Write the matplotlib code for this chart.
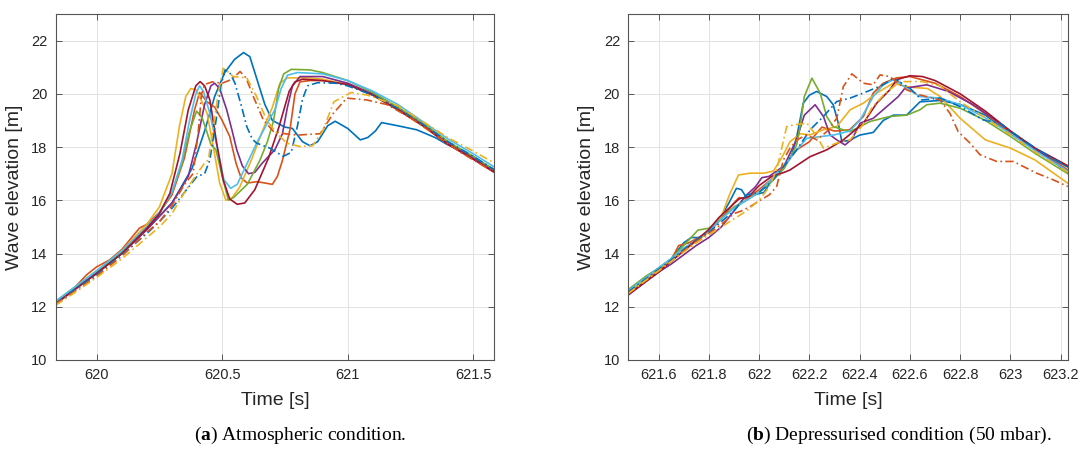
import matplotlib
matplotlib.use("Agg")
import matplotlib.pyplot as plt

# MATLAB default colour order
c_blue = "#0072BD"
c_orange = "#D95319"
c_yellow = "#EDB120"
c_purple = "#7E2F8E"
c_green = "#77AC30"
c_cyan = "#4DBEEE"
c_red = "#A2142F"

# ---- (a) atmospheric condition ----
a_t_blue = [619.836, 619.9, 620.0, 620.1, 620.2, 620.3, 620.38, 620.43, 620.47, 620.51, 620.55, 620.585,
            620.61, 620.64, 620.67, 620.7, 620.75, 620.78, 620.82, 620.85, 620.88, 620.92, 620.95, 621.0,
            621.05, 621.08, 621.11, 621.135, 621.2, 621.275, 621.35, 621.394, 621.5, 621.584]
a_v_blue = [12.15, 12.6, 13.25, 14.0, 14.9, 15.9, 17.2, 18.6, 19.9, 20.8, 21.3, 21.55,
            21.4, 20.5, 19.6, 19.0, 18.75, 18.7, 18.2, 18.05, 18.2, 18.8, 18.97, 18.7,
            18.27, 18.36, 18.6, 18.92, 18.8, 18.65, 18.35, 18.11, 17.65, 17.1]

a_t_orange = [619.836, 619.9, 619.96, 620.0, 620.05, 620.1, 620.17, 620.2, 620.25, 620.3, 620.35, 620.39,
              620.41, 620.44, 620.47, 620.5, 620.53, 620.555, 620.575, 620.6, 620.64, 620.67, 620.7, 620.72,
              620.74, 620.77, 620.79, 620.81, 620.85, 620.9, 621.0, 621.1, 621.2, 621.3, 621.4, 621.5, 621.584]
a_v_orange = [12.15, 12.6, 13.2, 13.5, 13.75, 14.15, 14.95, 15.1, 15.55, 16.2, 17.6, 19.4,
              20.05, 19.7, 19.5, 19.0, 18.4, 17.4, 16.85, 16.65, 16.7, 16.65, 16.6, 16.9,
              17.5, 18.65, 20.0, 20.45, 20.5, 20.5, 20.35, 19.95, 19.4, 18.8, 18.1, 17.55, 17.05]

a_t_yellow = [619.836, 619.9, 620.0, 620.1, 620.2, 620.25, 620.3, 620.33, 620.355, 620.375, 620.395, 620.41,
              620.44, 620.465, 620.49, 620.515, 620.54, 620.57, 620.62, 620.66, 620.7, 620.73, 620.76, 620.85,
              620.9, 621.0, 621.1, 621.2, 621.3, 621.4, 621.5, 621.584]
a_v_yellow = [12.15, 12.6, 13.3, 14.1, 15.1, 15.75, 17.0, 18.8, 19.9, 20.2, 20.15, 19.9,
              19.27, 18.0, 16.65, 16.0, 16.1, 16.5, 17.6, 18.6, 19.5, 20.4, 20.6, 20.6,
              20.55, 20.35, 19.95, 19.4, 18.8, 18.15, 17.6, 17.1]

a_t_purple = [619.836, 619.9, 620.0, 620.1, 620.2, 620.25, 620.3, 620.34, 620.365, 620.398, 620.43, 620.455,
              620.47, 620.49, 620.518, 620.54, 620.558, 620.58, 620.605, 620.63, 620.66, 620.71, 620.74, 620.76,
              620.78, 620.81, 620.9, 621.0, 621.1, 621.2, 621.3, 621.4, 621.5, 621.584]
a_v_purple = [12.15, 12.6, 13.3, 14.0, 14.9, 15.4, 15.9, 16.5, 16.9, 18.15, 19.6, 20.3,
              20.4, 20.2, 19.4, 18.6, 17.9, 17.3, 17.0, 17.05, 17.4, 17.9, 18.5, 19.5,
              20.3, 20.65, 20.65, 20.4, 20.0, 19.45, 18.85, 18.15, 17.6, 17.1]

a_t_green = [619.836, 619.9, 620.0, 620.1, 620.2, 620.25, 620.3, 620.34, 620.37, 620.398, 620.42, 620.438,
             620.455, 620.475, 620.5, 620.525, 620.545, 620.6, 620.65, 620.68, 620.705, 620.725, 620.745,
             620.775, 620.85, 620.9, 621.0, 621.1, 621.2, 621.3, 621.4, 621.5, 621.584]
a_v_green = [12.2, 12.65, 13.35, 14.05, 15.0, 15.5, 16.3, 17.4, 18.6, 19.35, 19.1, 18.6,
             18.1, 17.9, 16.9, 16.0, 16.1, 16.6, 17.5, 18.2, 19.0, 20.2, 20.75,
             20.92, 20.9, 20.8, 20.5, 20.05, 19.5, 18.9, 18.2, 17.65, 17.15]

a_t_cyan = [619.836, 619.9, 620.0, 620.1, 620.2, 620.25, 620.3, 620.34, 620.37, 620.395, 620.41, 620.425,
            620.45, 620.485, 620.507, 620.534, 620.56, 620.6, 620.64, 620.68, 620.71, 620.735, 620.76, 620.8,
            620.9, 621.0, 621.1, 621.2, 621.3, 621.4, 621.5, 621.584]
a_v_cyan = [12.2, 12.65, 13.35, 14.1, 15.0, 15.55, 16.3, 17.5, 19.0, 20.0, 20.3, 20.1,
            19.3, 17.77, 16.77, 16.45, 16.6, 17.4, 18.2, 18.9, 19.4, 20.2, 20.7, 20.8,
            20.75, 20.5, 20.1, 19.6, 18.95, 18.3, 17.75, 17.25]

a_t_red = [619.836, 619.9, 620.0, 620.1, 620.2, 620.25, 620.292, 620.332, 620.365, 620.395, 620.412, 620.43,
           620.451, 620.478, 620.504, 620.53, 620.56, 620.59, 620.63, 620.685, 620.726, 620.767, 620.79, 620.82,
           620.9, 621.0, 621.1, 621.2, 621.3, 621.4, 621.5, 621.584]
a_v_red = [12.1, 12.55, 13.25, 14.0, 14.95, 15.5, 16.27, 17.77, 19.4, 20.3, 20.46, 20.3,
           19.77, 18.15, 16.77, 16.05, 15.85, 15.9, 16.4, 17.6, 18.75, 20.1, 20.45, 20.55,
           20.5, 20.35, 19.95, 19.4, 18.8, 18.1, 17.55, 17.05]

a_t_blue_dd = [619.836, 619.9, 620.0, 620.1, 620.2, 620.25, 620.3, 620.35, 620.4, 620.43, 620.451, 620.478,
               620.495, 620.511, 620.53, 620.551, 620.575, 620.598, 620.62, 620.637, 620.69, 620.743, 620.775,
               620.8, 620.82, 620.84, 620.88, 620.95, 621.0, 621.1, 621.2, 621.3, 621.4, 621.5, 621.584]
a_v_blue_dd = [12.1, 12.55, 13.2, 13.95, 14.75, 15.2, 15.7, 16.3, 16.9, 17.0, 17.52, 19.15,
               20.3, 20.9, 20.8, 20.4, 19.6, 18.77, 18.3, 18.15, 17.96, 17.65, 17.8,
               18.8, 19.8, 20.3, 20.42, 20.4, 20.3, 19.95, 19.45, 18.85, 18.2, 17.65, 17.15]

a_t_orange_dd = [619.836, 619.9, 620.0, 620.1, 620.2, 620.25, 620.3, 620.35, 620.384, 620.404, 620.418, 620.43,
                 620.46, 620.5, 620.54, 620.571, 620.595, 620.624, 620.664, 620.704, 620.75, 620.8, 620.85,
                 620.89, 620.943, 620.996, 621.076, 621.155, 621.25, 621.35, 621.45, 621.584]
a_v_orange_dd = [12.1, 12.5, 13.15, 13.9, 14.8, 15.2, 15.8, 16.6, 17.0, 18.5, 20.0, 20.35,
                 20.45, 20.4, 20.55, 20.84, 20.6, 19.9, 19.02, 18.59, 18.5, 18.45, 18.48,
                 18.5, 19.27, 19.84, 19.77, 19.6, 19.1, 18.45, 17.8, 17.05]

a_t_yellow_dd = [619.836, 619.9, 620.0, 620.1, 620.2, 620.25, 620.3, 620.35, 620.4, 620.43, 620.445, 620.465,
                 620.484, 620.504, 620.52, 620.544, 620.598, 620.637, 620.677, 620.717, 620.757, 620.81, 620.86,
                 620.9, 620.945, 621.013, 621.08, 621.2, 621.3, 621.4, 621.5, 621.584]
a_v_yellow_dd = [12.05, 12.45, 13.1, 13.8, 14.6, 15.0, 15.5, 16.3, 17.0, 17.4, 17.52, 18.77,
                 20.0, 20.96, 20.85, 20.65, 20.6, 19.9, 19.02, 18.52, 18.15, 18.02, 18.05,
                 18.6, 19.7, 20.05, 19.95, 19.55, 18.95, 18.35, 17.85, 17.4]

# ---- (b) depressurised condition ----
b_t_blue = [621.48, 621.55, 621.6, 621.65, 621.7, 621.73, 621.77, 621.8, 621.85, 621.88, 621.91, 621.93,
            621.95, 621.98, 622.02, 622.06, 622.1, 622.13, 622.15, 622.176, 622.2, 622.229, 622.269, 622.295,
            622.315, 622.329, 622.36, 622.4, 622.454, 622.494, 622.534, 622.587, 622.64, 622.72, 622.8,
            622.9, 623.0, 623.1, 623.228]
b_v_blue = [12.6, 13.1, 13.45, 13.8, 14.4, 14.6, 14.6, 14.85, 15.4, 15.9, 16.45, 16.4,
            16.1, 16.2, 16.3, 16.9, 17.3, 17.7, 18.4, 19.65, 19.95, 20.09, 19.9, 19.59,
            18.9, 18.21, 18.25, 18.45, 18.55, 19.0, 19.2, 19.2, 19.7, 19.75, 19.6,
            19.2, 18.5, 17.9, 17.25]

b_t_orange = [621.48, 621.55, 621.6, 621.65, 621.68, 621.72, 621.76, 621.8, 621.85, 621.9, 621.92, 621.95,
              622.0, 622.05, 622.1, 622.15, 622.2, 622.25, 622.3, 622.36, 622.415, 622.454, 622.494, 622.547,
              622.6, 622.7, 622.8, 622.9, 623.0, 623.1, 623.228]
b_v_orange = [12.5, 13.0, 13.35, 13.75, 14.3, 14.4, 14.6, 14.8, 15.3, 15.9, 16.1, 16.05,
              16.4, 16.8, 17.3, 17.9, 18.2, 18.75, 18.6, 18.65, 19.15, 20.03, 20.4, 20.6,
              20.65, 20.4, 19.9, 19.25, 18.55, 17.9, 17.15]

b_t_yellow = [621.48, 621.55, 621.6, 621.65, 621.7, 621.75, 621.8, 621.85, 621.885, 621.918, 621.964, 622.02,
              622.057, 622.09, 622.123, 622.163, 622.203, 622.256, 622.309, 622.362, 622.415, 622.468, 622.534,
              622.6, 622.67, 622.72, 622.8, 622.9, 623.0, 623.097, 623.228]
b_v_yellow = [12.55, 13.05, 13.4, 13.75, 14.1, 14.45, 14.8, 15.4, 16.27, 16.95, 17.02, 17.02,
              17.1, 17.6, 18.2, 18.5, 18.46, 18.65, 18.77, 19.4, 19.65, 20.03, 20.4,
              20.25, 20.2, 19.9, 19.08, 18.27, 17.96, 17.52, 16.64]

b_t_purple = [621.48, 621.55, 621.6, 621.65, 621.7, 621.75, 621.8, 621.85, 621.9, 621.95, 621.985, 622.011,
              622.04, 622.07, 622.1, 622.15, 622.18, 622.223, 622.256, 622.282, 622.309, 622.342, 622.37,
              622.402, 622.454, 622.508, 622.554, 622.58, 622.667, 622.75, 622.85, 622.95, 623.05, 623.15, 623.228]
b_v_purple = [12.45, 12.95, 13.3, 13.6, 13.95, 14.3, 14.6, 15.0, 15.6, 16.2, 16.5, 16.85,
              16.9, 17.1, 17.3, 18.3, 19.2, 19.59, 19.15, 18.46, 18.27, 18.08, 18.3,
              18.9, 19.08, 19.52, 19.9, 20.21, 20.34, 20.1, 19.6, 18.95, 18.25, 17.6, 17.05]

b_t_green = [621.48, 621.55, 621.6, 621.65, 621.7, 621.757, 621.8, 621.85, 621.9, 621.95, 622.0, 622.05,
             622.1, 622.13, 622.15, 622.163, 622.18, 622.21, 622.243, 622.269, 622.295, 622.335, 622.362,
             622.441, 622.52, 622.587, 622.64, 622.667, 622.72, 622.8, 622.9, 623.0, 623.1, 623.228]
b_v_green = [12.65, 13.15, 13.45, 13.8, 14.3, 14.88, 14.95, 15.3, 15.75, 16.0, 16.3, 16.7,
             17.2, 17.7, 18.1, 18.77, 19.9, 20.59, 20.03, 19.15, 18.77, 18.65, 18.58,
             18.96, 19.15, 19.2, 19.4, 19.59, 19.65, 19.46, 19.0, 18.4, 17.75, 17.0]

b_t_cyan = [621.48, 621.55, 621.6, 621.65, 621.7, 621.75, 621.8, 621.85, 621.9, 621.95, 622.0, 622.05,
            622.1, 622.15, 622.19, 622.25, 622.3, 622.36, 622.402, 622.454, 622.494, 622.534, 622.587,
            622.64, 622.72, 622.8, 622.9, 623.0, 623.1, 623.228]
b_v_cyan = [12.6, 13.1, 13.45, 13.8, 14.2, 14.5, 14.85, 15.3, 15.7, 16.0, 16.3, 16.8,
            17.3, 17.9, 18.33, 18.4, 18.46, 18.6, 19.02, 19.9, 20.34, 20.53, 20.21,
            19.9, 19.84, 19.59, 19.1, 18.5, 17.85, 17.1]

b_t_red = [621.48, 621.55, 621.6, 621.65, 621.7, 621.75, 621.8, 621.84, 621.88, 621.92, 621.96, 622.0,
           622.05, 622.1, 622.123, 622.203, 622.27, 622.335, 622.415, 622.468, 622.52, 622.547, 622.6,
           622.65, 622.7, 622.8, 622.9, 623.0, 623.1, 623.228]
b_v_red = [12.45, 12.95, 13.3, 13.7, 14.1, 14.5, 14.9, 15.35, 15.7, 16.05, 16.15, 16.55,
           16.9, 17.05, 17.14, 17.64, 17.9, 18.27, 18.9, 19.65, 20.15, 20.53, 20.68,
           20.65, 20.5, 20.0, 19.35, 18.6, 17.95, 17.3]

b_t_blue_dd = [621.48, 621.55, 621.6, 621.65, 621.7, 621.75, 621.8, 621.85, 621.9, 621.95, 622.0, 622.05,
               622.1, 622.15, 622.203, 622.256, 622.309, 622.362, 622.415, 622.494, 622.534, 622.6, 622.647,
               622.72, 622.8, 622.892, 622.958, 623.0, 623.1, 623.228]
b_v_blue_dd = [12.55, 13.05, 13.4, 13.75, 14.15, 14.5, 14.8, 15.2, 15.6, 16.2, 16.3, 16.7,
               17.3, 17.9, 18.65, 19.15, 19.71, 19.84, 20.03, 20.34, 20.59, 20.21, 19.77,
               19.84, 19.52, 19.02, 18.9, 18.6, 17.95, 17.25]

b_t_orange_dd = [621.48, 621.55, 621.6, 621.65, 621.7, 621.75, 621.8, 621.85, 621.9, 621.93, 621.964, 622.004,
                 622.04, 622.07, 622.097, 622.123, 622.15, 622.19, 622.23, 622.269, 622.309, 622.335, 622.369,
                 622.415, 622.454, 622.481, 622.52, 622.587, 622.64, 622.72, 622.759, 622.792, 622.839,
                 622.879, 622.945, 623.011, 623.051, 623.104, 623.17, 623.228]
b_v_orange_dd = [12.5, 13.0, 13.35, 13.7, 14.1, 14.45, 14.75, 15.1, 15.5, 15.6, 15.76, 16.0,
                 16.2, 16.52, 17.52, 17.96, 18.27, 18.46, 18.27, 18.58, 19.08, 20.27, 20.75,
                 20.4, 20.34, 20.71, 20.65, 20.15, 19.96, 19.77, 19.27, 18.58, 18.15,
                 17.71, 17.46, 17.46, 17.27, 17.02, 16.77, 16.52]

b_t_yellow_dd = [621.48, 621.55, 621.6, 621.65, 621.7, 621.75, 621.8, 621.85, 621.9, 621.95, 622.0, 622.04,
                 622.07, 622.09, 622.11, 622.136, 622.19, 622.23, 622.256, 622.309, 622.362, 622.41, 622.45,
                 622.5, 622.56, 622.65, 622.72, 622.8, 622.9, 623.0, 623.1, 623.228]
b_v_yellow_dd = [12.5, 13.0, 13.35, 13.7, 14.05, 14.4, 14.7, 15.0, 15.3, 15.6, 16.0, 16.5,
                 17.14, 17.96, 18.77, 18.83, 18.9, 18.4, 17.96, 18.15, 18.27, 18.8, 19.5,
                 20.0, 20.46, 20.46, 20.3, 19.7, 19.1, 18.45, 17.8, 17.05]

a_ticks = [620, 620.5, 621, 621.5]
a_ticklabels = ["620", "620.5", "621", "621.5"]
b_ticks = [621.6, 621.8, 622, 622.2, 622.4, 622.6, 622.8, 623, 623.2]
b_ticklabels = ["621.6", "621.8", "622", "622.2", "622.4", "622.6", "622.8", "623", "623.2"]
y_ticks = [10, 12, 14, 16, 18, 20, 22]

captions = [r"($\mathbf{a}$) Atmospheric condition.", r"($\mathbf{b}$) Depressurised condition (50 mbar)."]

plt.rcParams["font.family"] = ["Liberation Sans", "DejaVu Sans"]
plt.rcParams["mathtext.fontset"] = "custom"
plt.rcParams["mathtext.rm"] = "Liberation Serif"
plt.rcParams["mathtext.bf"] = "Liberation Serif:bold"

fig = plt.figure(figsize=(10.8, 4.53), dpi=100)
ax1 = fig.add_axes([0.0516, 0.2053, 0.4061, 0.7638])
ax2 = fig.add_axes([0.5818, 0.2053, 0.4069, 0.7638])

lw = 1.2
a_series = [
    (a_t_blue, a_v_blue, c_blue, "-"),
    (a_t_orange, a_v_orange, c_orange, "-"),
    (a_t_yellow, a_v_yellow, c_yellow, "-"),
    (a_t_purple, a_v_purple, c_purple, "-"),
    (a_t_green, a_v_green, c_green, "-"),
    (a_t_cyan, a_v_cyan, c_cyan, "-"),
    (a_t_red, a_v_red, c_red, "-"),
    (a_t_blue_dd, a_v_blue_dd, c_blue, "-."),
    (a_t_orange_dd, a_v_orange_dd, c_orange, "-."),
    (a_t_yellow_dd, a_v_yellow_dd, c_yellow, "-."),
]
b_series = [
    (b_t_blue, b_v_blue, c_blue, "-"),
    (b_t_orange, b_v_orange, c_orange, "-"),
    (b_t_yellow, b_v_yellow, c_yellow, "-"),
    (b_t_purple, b_v_purple, c_purple, "-"),
    (b_t_green, b_v_green, c_green, "-"),
    (b_t_cyan, b_v_cyan, c_cyan, "-"),
    (b_t_red, b_v_red, c_red, "-"),
    (b_t_blue_dd, b_v_blue_dd, c_blue, "-."),
    (b_t_orange_dd, b_v_orange_dd, c_orange, "-."),
    (b_t_yellow_dd, b_v_yellow_dd, c_yellow, "-."),
]

for ax, series, xlim, ticks, labels, cap, capx in [
        (ax1, a_series, (619.837, 621.584), a_ticks, a_ticklabels, captions[0], 0.278),
        (ax2, b_series, (621.48, 623.228), b_ticks, b_ticklabels, captions[1], 0.832)]:
    for t, v, col, ls in series:
        ax.plot(t, v, color=col, linestyle=ls, linewidth=lw, dashes=(5, 2, 1, 2) if ls == "-." else (None, None))
    ax.set_xlim(*xlim)
    ax.set_ylim(10, 23)
    ax.set_xticks(ticks)
    ax.set_xticklabels(labels)
    ax.set_yticks(y_ticks)
    ax.grid(True, color="#e3e3e3", linewidth=0.7)
    ax.set_axisbelow(True)
    ax.tick_params(direction="in", top=True, right=True, length=4, width=0.6,
                   labelsize=10.5, colors="#404040", labelcolor="#262626", pad=6)
    for sp in ax.spines.values():
        sp.set_color("#555555")
        sp.set_linewidth(0.8)
    ax.set_xlabel("Time [s]", fontsize=14, color="#262626", labelpad=7)
    ax.set_ylabel("Wave elevation [m]", fontsize=14, color="#262626", labelpad=6)
    fig.text(capx, 0.038, cap, ha="center", va="center", fontsize=14,
             family="Liberation Serif", color="black")

fig.savefig("out.png", dpi=100)
